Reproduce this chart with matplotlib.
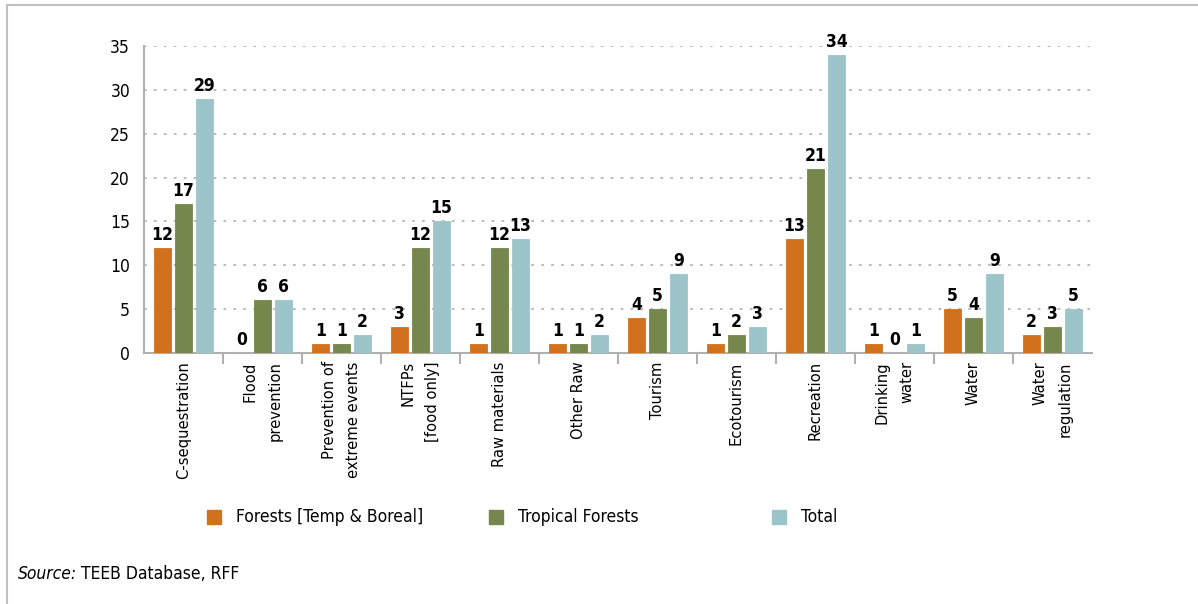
import numpy as np
import matplotlib.pyplot as plt
from matplotlib.lines import Line2D
from matplotlib.patches import Rectangle

plt.rcParams['font.family'] = ['Liberation Sans Narrow', 'DejaVu Sans']
plt.rcParams['font.stretch'] = 'condensed'

categories = ['C-sequestration', 'Flood\nprevention', 'Prevention of\nextreme events',
              'NTFPs\n[food only]', 'Raw materials', 'Other Raw', 'Tourism', 'Ecotourism',
              'Recreation', 'Drinking\nwater', 'Water', 'Water\nregulation']
temperate = [12, 0, 1, 3, 1, 1, 4, 1, 13, 1, 5, 2]
tropical = [17, 6, 1, 12, 12, 1, 5, 2, 21, 0, 4, 3]
total = [29, 6, 2, 15, 13, 2, 9, 3, 34, 1, 9, 5]

series = [
    ('Forests [Temp & Boreal]', temperate, '#d2711d'),
    ('Tropical Forests', tropical, '#76874d'),
    ('Total', total, '#9dc5c9'),
]

fig = plt.figure(figsize=(11.98, 6.04), dpi=100)
ax = fig.add_axes([0.1202, 0.4156, 0.7913, 0.5083])

x = np.arange(len(categories))
step = 0.266
width = 0.21
for i, (name, vals, color) in enumerate(series):
    pos = x + (i - 1) * step
    # thin edge keeps zero-height bars visible as a hairline
    ax.bar(pos, vals, width, color=color, edgecolor=color, linewidth=0.6, zorder=3)
    for p, v in zip(pos, vals):
        ax.text(p, v + 0.45, str(v), ha='center', va='bottom', fontsize=12.5,
                fontweight='bold', color='black', clip_on=False)

ax.set_xlim(-0.5, len(categories) - 0.5)
ax.set_ylim(0, 35)
ax.set_yticks(range(0, 36, 5))
ax.tick_params(axis='y', length=0, labelsize=12.5, pad=10)
ax.set_xticks(x)
ax.set_xticklabels(categories, rotation=90, fontsize=11.8, multialignment='right',
                   linespacing=1.8)
ax.tick_params(axis='x', length=0, pad=6)

# separators between the groups, hanging below the axis
ax.set_xticks(np.arange(0.5, len(categories) - 0.5), minor=True)
ax.tick_params(axis='x', which='minor', length=8, width=1.5, color='#b0b0b0',
               direction='out')

for y in range(5, 36, 5):
    ax.axhline(y, color='#b5b5b5', linestyle=(0, (1.5, 4)), linewidth=1.3, zorder=1)

for side in ['top', 'right']:
    ax.spines[side].set_visible(False)
for side in ['left', 'bottom']:
    ax.spines[side].set_color('#b0b0b0')
    ax.spines[side].set_linewidth(1.5)

# legend row
leg_y = 0.144
for (name, vals, color), lx in zip(series, [0.1728, 0.4082, 0.6444]):
    fig.patches.append(Rectangle((lx, leg_y - 0.0115), 0.0117, 0.023, color=color,
                                 transform=fig.transFigure, figure=fig))
    fig.text(lx + 0.0242, leg_y, name, fontsize=12.5, va='center', ha='left')

fig.text(0.015, 0.050, 'Source:', fontsize=12.5, style='italic', va='center')
fig.text(0.0675, 0.050, 'TEEB Database, RFF', fontsize=12.5, va='center')

# frame lines along the top and left of the figure
fig.lines.append(Line2D([0.006, 1.0], [0.992, 0.992], color='#c0c0c0', linewidth=1.5,
                        transform=fig.transFigure))
fig.lines.append(Line2D([0.006, 0.006], [0.0, 0.992], color='#c0c0c0', linewidth=1.5,
                        transform=fig.transFigure))

fig.savefig('out.png', dpi=100)
